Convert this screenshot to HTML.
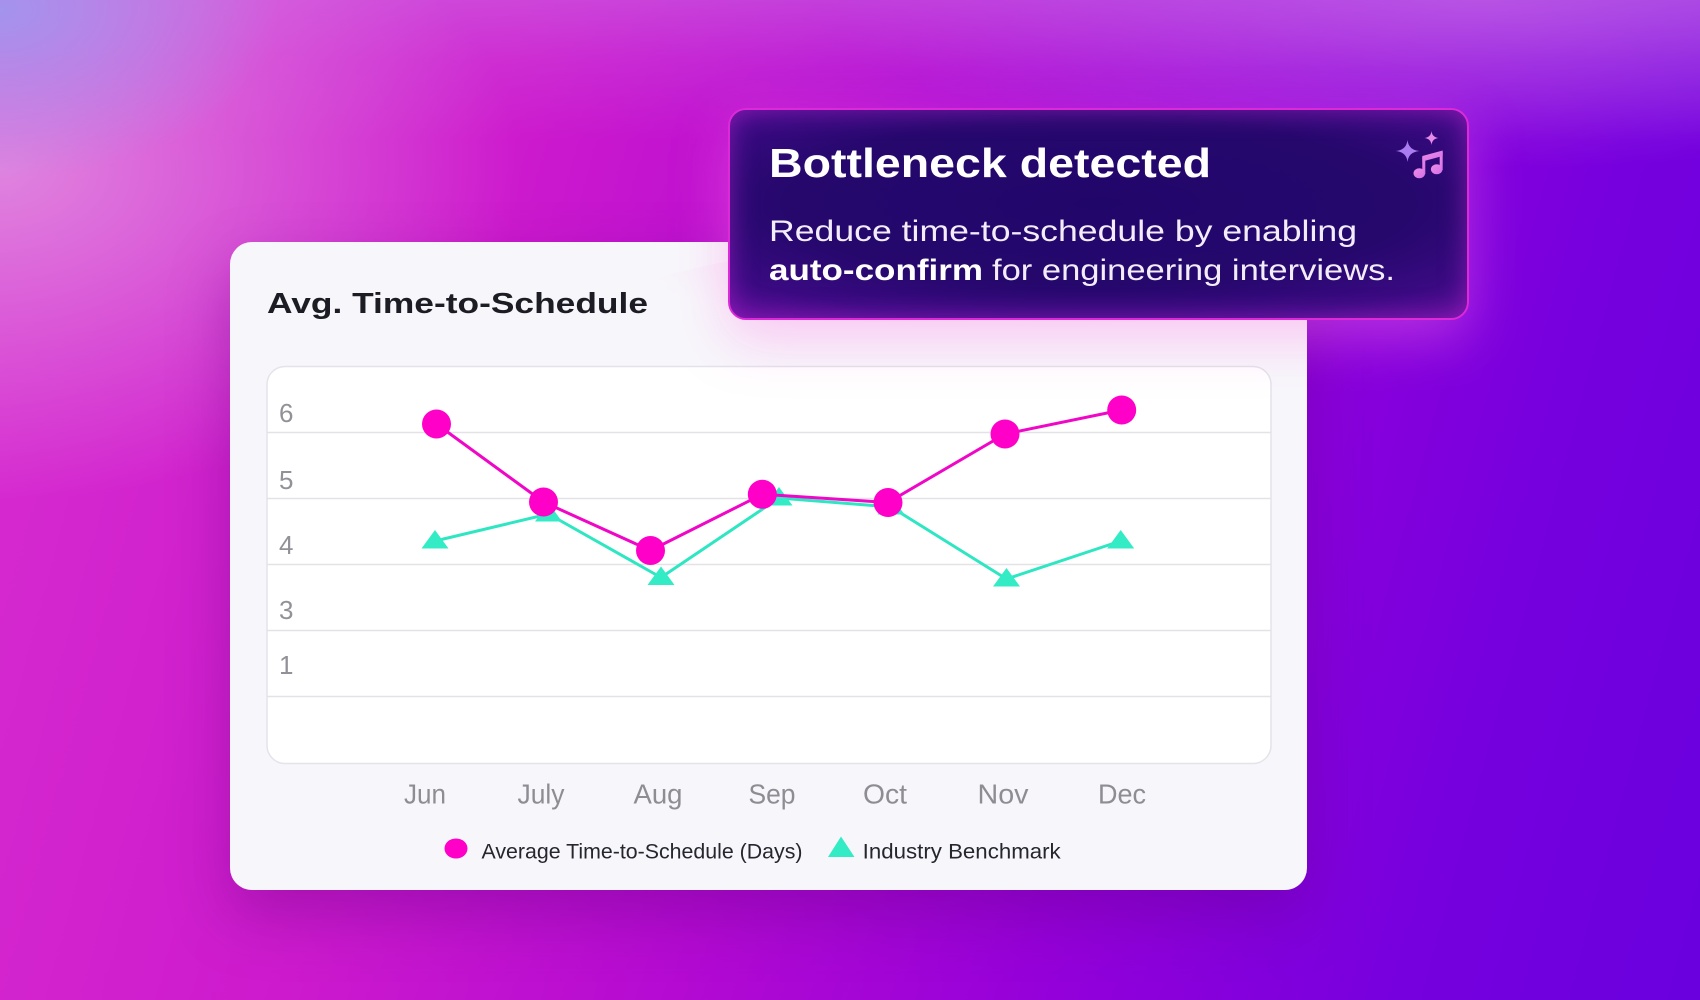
<!DOCTYPE html>
<html>
<head>
<meta charset="utf-8">
<style>
  html, body { margin:0; padding:0; }
  body {
    width:1700px; height:1000px; overflow:hidden; position:relative;
    background:
      radial-gradient(ellipse 280px 170px at 0px 10px, rgba(160,150,238,0.95), rgba(160,150,238,0) 100%),
      radial-gradient(ellipse 520px 330px at 0px 170px, rgba(226,160,228,0.75), rgba(226,160,228,0) 100%),
      radial-gradient(ellipse 650px 170px at 1480px 0px, rgba(200,110,232,0.5), rgba(200,110,232,0) 100%),
      linear-gradient(to bottom, rgba(205,120,232,0.45) 0px, rgba(205,120,232,0.2) 60px, rgba(205,120,232,0) 140px),
      linear-gradient(105deg, #d82ed0 0%, #cd1acd 28%, #b40ad2 48%, #9200da 68%, #7600de 85%, #6a00de 100%);
    font-family: "Liberation Sans", sans-serif;
  }
  .card {
    position:absolute; left:230px; top:242px; width:1077px; height:648px;
    border-radius:22px; background:#f7f7fb;
    box-shadow: 0 26px 60px rgba(95,0,125,0.35);
  }
  .tip {
    position:absolute; left:728px; top:108px; width:737px; height:208px;
    border-radius:18px; border:2px solid #dc2ad8;
    background: radial-gradient(ellipse 78% 72% at 50% 45%, #21066a 0%, #26086d 55%, #3a0a82 80%, #5e0e9a 100%);
    box-shadow: inset 0 0 26px rgba(200,40,220,0.5), 0 18px 55px rgba(255,120,230,0.4);
  }
  svg { position:absolute; left:0; top:0; }
</style>
</head>
<body>
<div class="card"></div>

<svg width="1700" height="1000" viewBox="0 0 1700 1000" xmlns="http://www.w3.org/2000/svg">
  <defs>
    <radialGradient id="pg" cx="0.5" cy="0" r="0.5">
      <stop offset="0" stop-color="#f8d8f2" stop-opacity="0.7"/>
      <stop offset="1" stop-color="#f8d8f2" stop-opacity="0"/>
    </radialGradient>
  </defs>
  <text x="267" y="313" font-family="Liberation Sans, sans-serif" font-weight="bold" font-size="29" fill="#1c1c24" textLength="381" lengthAdjust="spacingAndGlyphs">Avg. Time-to-Schedule</text>

  <rect x="267" y="366.5" width="1004" height="397" rx="18" ry="18" fill="#ffffff" stroke="#e3e3ea" stroke-width="1.5"/>
  <ellipse cx="1000" cy="330" rx="420" ry="90" fill="url(#pg)"/>
  <g stroke="#e2e2e7" stroke-width="1.5">
    <line x1="267" y1="432.5" x2="1271" y2="432.5"/>
    <line x1="267" y1="498.5" x2="1271" y2="498.5"/>
    <line x1="267" y1="564.5" x2="1271" y2="564.5"/>
    <line x1="267" y1="630.5" x2="1271" y2="630.5"/>
    <line x1="267" y1="696.5" x2="1271" y2="696.5"/>
  </g>
  <g font-family="Liberation Sans, sans-serif" font-size="26" fill="#919197">
    <text x="279" y="422">6</text>
    <text x="279" y="489">5</text>
    <text x="279" y="554">4</text>
    <text x="279" y="619">3</text>
    <text x="279" y="674">1</text>
  </g>
  <g font-family="Liberation Sans, sans-serif" font-size="28" fill="#8d8d93" text-anchor="middle">
    <text x="425" y="803.5" textLength="42" lengthAdjust="spacingAndGlyphs">Jun</text>
    <text x="541" y="803.5" textLength="47" lengthAdjust="spacingAndGlyphs">July</text>
    <text x="658" y="803.5" textLength="49" lengthAdjust="spacingAndGlyphs">Aug</text>
    <text x="772" y="803.5" textLength="47" lengthAdjust="spacingAndGlyphs">Sep</text>
    <text x="885" y="803.5" textLength="44" lengthAdjust="spacingAndGlyphs">Oct</text>
    <text x="1003" y="803.5" textLength="51" lengthAdjust="spacingAndGlyphs">Nov</text>
    <text x="1122" y="803.5" textLength="48" lengthAdjust="spacingAndGlyphs">Dec</text>
  </g>

  <!-- Industry benchmark -->
  <polyline fill="none" stroke="#2fe6c2" stroke-width="3" stroke-linejoin="round"
    points="435,541 548.5,514 661,577.5 779,498 891,507 1006.5,579 1120.7,541"/>
  <g fill="#33ecc6">
    <polygon points="435,530 421.5,548.5 448.5,548.5"/>
    <polygon points="548.5,503 535,521.5 562,521.5"/>
    <polygon points="661,566.5 647.5,585 674.5,585"/>
    <polygon points="779,487 765.5,505.5 792.5,505.5"/>
    <polygon points="891,496 877.5,514.5 904.5,514.5"/>
    <polygon points="1006.5,568 993,586.5 1020,586.5"/>
    <polygon points="1120.7,530 1107.2,548.5 1134.2,548.5"/>
  </g>

  <!-- Avg time to schedule -->
  <polyline fill="none" stroke="#f006c6" stroke-width="3" stroke-linejoin="round"
    points="436.5,424 543.5,502 650.5,550.5 762.3,494.3 888,502.5 1005,434 1121.7,410"/>
  <g fill="#ff00c8">
    <circle cx="436.5" cy="424" r="14.5"/>
    <circle cx="543.5" cy="502" r="14.5"/>
    <circle cx="650.5" cy="550.5" r="14.5"/>
    <circle cx="762.3" cy="494.3" r="14.5"/>
    <circle cx="888" cy="502.5" r="14.5"/>
    <circle cx="1005" cy="434" r="14.5"/>
    <circle cx="1121.7" cy="410" r="14.5"/>
  </g>

  <!-- Legend -->
  <ellipse cx="456" cy="848.5" rx="11.5" ry="10" fill="#ff00c8"/>
  <text x="481.5" y="858.3" font-family="Liberation Sans, sans-serif" font-size="21" fill="#26262f" textLength="321" lengthAdjust="spacingAndGlyphs">Average Time-to-Schedule (Days)</text>
  <polygon points="841,836.5 828,857 854.5,857" fill="#33ecc6"/>
  <text x="862.7" y="858.3" font-family="Liberation Sans, sans-serif" font-size="21" fill="#26262f" textLength="198" lengthAdjust="spacingAndGlyphs">Industry Benchmark</text>
</svg>

<div class="tip"></div>

<svg width="1700" height="1000" viewBox="0 0 1700 1000" xmlns="http://www.w3.org/2000/svg">
  <defs>
    <linearGradient id="ng" x1="0" y1="0" x2="1" y2="1">
      <stop offset="0" stop-color="#f08ae8"/>
      <stop offset="1" stop-color="#d070e6"/>
    </linearGradient>
  </defs>
  <text x="769" y="177" font-family="Liberation Sans, sans-serif" font-weight="bold" font-size="41" fill="#ffffff" textLength="442" lengthAdjust="spacingAndGlyphs">Bottleneck detected</text>
  <text x="769" y="241" font-family="Liberation Sans, sans-serif" font-size="30" fill="#f3edfb" textLength="588" lengthAdjust="spacingAndGlyphs">Reduce time-to-schedule by enabling</text>
  <text x="769" y="280" font-family="Liberation Sans, sans-serif" font-weight="bold" font-size="30" fill="#ffffff" textLength="214" lengthAdjust="spacingAndGlyphs">auto-confirm</text>
  <text x="992" y="280" font-family="Liberation Sans, sans-serif" font-size="30" fill="#f3edfb" textLength="403" lengthAdjust="spacingAndGlyphs">for engineering interviews.</text>

  <!-- sparkle + music icon -->
  <path d="M1407.5,140 Q1408.5,150 1419.5,151 Q1408.5,152 1407.5,162 Q1406.5,152 1395.5,151 Q1406.5,150 1407.5,140 Z" fill="#a97cf2"/>
  <path d="M1431.5,131 Q1432.2,137.3 1438.5,138 Q1432.2,138.7 1431.5,145 Q1430.8,138.7 1424.5,138 Q1430.8,137.3 1431.5,131 Z" fill="#e68ae8"/>
  <g fill="url(#ng)">
    <ellipse cx="1419.3" cy="173.3" rx="5.8" ry="5"/>
    <ellipse cx="1436.7" cy="169.3" rx="5.8" ry="5"/>
    <rect x="1422.3" y="157" width="3" height="17"/>
    <rect x="1439.7" y="152" width="3" height="18"/>
    <polygon points="1422.3,156 1442.7,150.5 1442.7,156 1422.3,161.5"/>
  </g>
</svg>
</body>
</html>
